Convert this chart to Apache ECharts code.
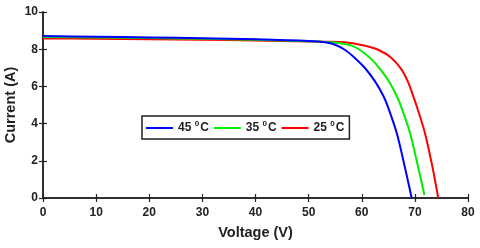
<!DOCTYPE html>
<html>
<head>
<meta charset="utf-8">
<script src="https://cdn.jsdelivr.net/npm/echarts@6/dist/echarts.min.js"></script>
<style>html,body{margin:0;padding:0;background:#fff;}#c{width:480px;height:248px;}</style>
</head>
<body>
<div id="c"></div>
<script>
var xTicks = [0, 10, 20, 30, 40, 50, 60, 70, 80];
var yTicks = [0, 2, 4, 6, 8, 10];
var seriesNames = ['45', '35', '25'];

var volt45 = [0, 10, 20, 30, 40, 50, 53.1, 55.0, 56.8, 58.7, 60.6, 62.5, 64.1, 65.0, 66.6, 68.1, 69.4];
var curr45 = [8.71, 8.67, 8.63, 8.59, 8.53, 8.44, 8.37, 8.24, 7.97, 7.53, 6.99, 6.27, 5.47, 4.85, 3.48, 1.68, 0];

var volt35 = [0, 10, 20, 30, 40, 50, 53, 55.6, 58.1, 60.0, 61.9, 63.8, 65.3, 66.6, 67.5, 69.1, 70.6, 71.8];
var curr35 = [8.66, 8.63, 8.60, 8.56, 8.51, 8.43, 8.39, 8.33, 8.19, 7.89, 7.44, 6.81, 6.18, 5.47, 4.85, 3.48, 1.68, 0.16];

var volt25 = [0, 10, 20, 30, 40, 50, 53, 56.8, 60.6, 63.1, 65.6, 67.5, 68.8, 69.7, 70.5, 71.9, 73.3, 74.4];
var curr25 = [8.58, 8.56, 8.54, 8.51, 8.47, 8.42, 8.40, 8.37, 8.19, 7.97, 7.53, 6.90, 6.18, 5.47, 4.80, 3.48, 1.68, 0];

var colors = ['#0000ff', '#00ee00', '#ff0000'];

function pairs(v, c) { return v.map(function (x, i) { return [x, c[i]]; }); }
var allData = [pairs(volt45, curr45), pairs(volt35, curr35), pairs(volt25, curr25)];

var font = 'Liberation Sans, Arial, sans-serif';
var chart = echarts.init(document.getElementById('c'), null, {renderer: 'canvas'});

var axisCommon = {
  axisLine: {show: true, lineStyle: {color: '#222', width: 1.5}},
  axisTick: {show: true, inside: true, length: 4, lineStyle: {color: '#222', width: 1.2}},
  splitLine: {show: false}
};

var option = {
  animation: false,
  backgroundColor: '#fff',
  grid: {left: 43, right: 12, top: 12, bottom: 50, containLabel: false, outerBoundsMode: 'none'},
  legend: {
    left: 142, top: 116,
    data: seriesNames,
    orient: 'horizontal',
    icon: 'rect',
    itemWidth: 27, itemHeight: 2,
    itemGap: 5,
    padding: [4, 5, 5, 4],
    borderColor: '#222', borderWidth: 1.5,
    backgroundColor: '#fff',
    formatter: function (n) { return '{a|' + n + ' }{s|0}{a|C}'; },
    textStyle: {
      rich: {
        a: {fontFamily: font, fontWeight: 'bold', fontSize: 12, color: '#222', lineHeight: 16},
        s: {fontFamily: font, fontWeight: 'bold', fontSize: 8, color: '#222', verticalAlign: 'top', lineHeight: 16, padding: [0, 1, 6, 0]}
      }
    }
  },
  xAxis: [
    Object.assign({
      type: 'value', min: 0, max: 80, interval: 10, position: 'bottom',
      name: 'Voltage (V)', nameLocation: 'middle', nameGap: 27,
      nameTextStyle: {fontFamily: font, fontWeight: 'bold', fontSize: 14.5, color: '#222'},
      axisLabel: {fontFamily: font, fontWeight: 'bold', fontSize: 12, color: '#222', margin: 9,
        formatter: function (v) { return xTicks.indexOf(v) >= 0 ? String(v) : ''; }}
    }, axisCommon),
    Object.assign({
      type: 'value', min: 0, max: 80, interval: 10, position: 'top',
      axisLabel: {show: false}
    }, axisCommon)
  ],
  yAxis: [
    Object.assign({
      type: 'value', min: 0, max: 10, interval: 2, position: 'left',
      name: 'Current (A)', nameLocation: 'middle', nameGap: 25, nameMoveOverlap: false,
      nameTextStyle: {fontFamily: font, fontWeight: 'bold', fontSize: 14.5, color: '#222'},
      axisLabel: {fontFamily: font, fontWeight: 'bold', fontSize: 12, color: '#222', margin: 5,
        formatter: function (v) { return yTicks.indexOf(v) >= 0 ? String(v) : ''; }}
    }, axisCommon),
    Object.assign({
      type: 'value', min: 0, max: 10, interval: 2, position: 'right',
      axisLabel: {show: false}
    }, axisCommon)
  ],
  series: seriesNames.map(function (n, i) {
    return {
      name: n, type: 'line', xAxisIndex: 0, yAxisIndex: 0,
      data: allData[i], showSymbol: false, symbol: 'none',
      smooth: 0.3,
      lineStyle: {color: colors[i], width: 2},
      itemStyle: {color: colors[i]},
      z: 3 - i
    };
  })
};
chart.setOption(option);
</script>
</body>
</html>
